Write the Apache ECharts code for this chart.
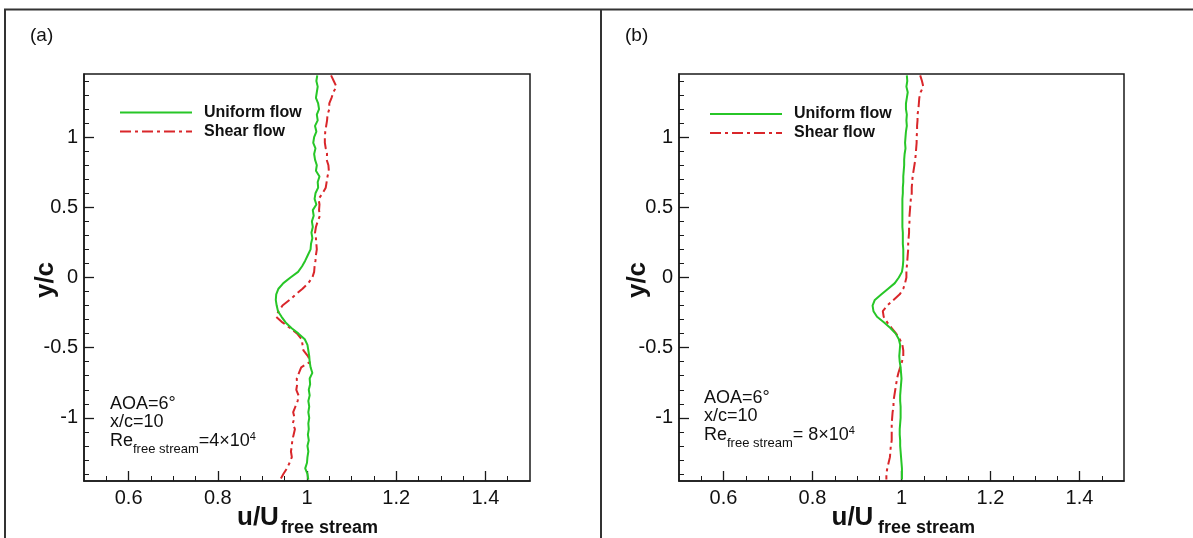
<!DOCTYPE html>
<html>
<head>
<meta charset="utf-8">
<script src="https://cdn.jsdelivr.net/npm/echarts@6/dist/echarts.min.js"></script>
<style>
html,body{margin:0;padding:0;background:#ffffff;}
#chart{width:1193px;height:538px;}
</style>
</head>
<body>
<div id="chart"></div>
<script>
// ---------- DATA ----------
const yValues = [
  1.44,1.40,1.36,1.32,1.28,1.24,1.20,1.16,1.12,1.08,
  1.04,1.00,0.96,0.92,0.88,0.84,0.80,0.76,0.72,0.68,
  0.64,0.60,0.56,0.52,0.48,0.44,0.40,0.36,0.32,0.28,
  0.24,0.20,0.16,0.12,0.08,0.04,0.00,-0.04,-0.08,-0.12,
  -0.16,-0.20,-0.24,-0.28,-0.32,-0.36,-0.40,-0.44,-0.48,-0.52,
  -0.56,-0.60,-0.64,-0.68,-0.72,-0.76,-0.80,-0.84,-0.88,-0.92,
  -0.96,-1.00,-1.04,-1.08,-1.12,-1.16,-1.20,-1.24,-1.28,-1.32,
  -1.36,-1.40,-1.44
];
// panel (a): Re = 4x10^4
const aUniformU = [
  1.023,1.021,1.024,1.022,1.020,1.025,1.027,1.022,1.024,1.018,
  1.021,1.016,1.014,1.019,1.016,1.018,1.022,1.020,1.028,1.024,
  1.025,1.019,1.017,1.021,1.013,1.015,1.011,1.013,1.010,1.012,
  1.009,1.008,1.002,0.996,0.989,0.980,0.963,0.947,0.936,0.931,
  0.930,0.932,0.935,0.943,0.952,0.965,0.981,0.995,1.001,1.003,
  1.005,1.006,1.008,1.012,1.006,1.007,1.004,1.006,1.003,1.005,
  1.003,1.005,1.003,1.004,1.002,1.004,1.001,1.003,1.001,1.000,
  0.996,1.001,1.003
];
const aShearU = [
  1.054,1.060,1.066,1.059,1.055,1.050,1.050,1.046,1.045,1.043,
  1.041,1.040,1.040,1.042,1.045,1.044,1.048,1.049,1.046,1.044,
  1.042,1.035,1.026,1.028,1.027,1.029,1.024,1.020,1.018,1.020,
  1.021,1.022,1.020,1.019,1.017,1.016,1.012,1.003,0.990,0.975,
  0.961,0.945,0.936,0.931,0.945,0.962,0.978,0.988,0.990,0.992,
  1.002,1.008,0.987,0.982,0.977,0.978,0.976,0.981,0.979,0.974,
  0.969,0.972,0.968,0.973,0.970,0.967,0.966,0.964,0.966,0.961,
  0.955,0.947,0.940
];
// panel (b): Re = 8x10^4
const bUniformU = [
  1.012,1.013,1.011,1.014,1.012,1.010,1.010,1.012,1.011,1.012,
  1.010,1.009,1.008,1.009,1.007,1.006,1.006,1.005,1.004,1.004,
  1.003,1.003,1.002,1.002,1.002,1.002,1.002,1.002,1.003,1.003,
  1.003,1.004,1.004,1.004,1.003,1.001,0.994,0.985,0.970,0.955,
  0.940,0.935,0.937,0.945,0.961,0.975,0.987,0.994,0.997,0.996,
  0.995,0.996,0.998,0.999,1.000,0.999,0.998,0.997,0.997,0.998,
  0.998,0.998,0.997,0.996,0.996,0.997,0.997,0.998,0.999,1.000,
  1.001,1.001,1.001
];
const bShearU = [
  1.042,1.046,1.049,1.043,1.040,1.039,1.038,1.036,1.036,1.035,
  1.035,1.034,1.034,1.033,1.032,1.031,1.029,1.027,1.025,1.024,
  1.023,1.023,1.021,1.020,1.019,1.018,1.018,1.017,1.017,1.016,
  1.015,1.015,1.014,1.013,1.012,1.011,1.011,1.008,1.004,0.996,
  0.982,0.968,0.958,0.960,0.968,0.978,0.988,0.996,1.002,1.004,
  1.004,1.001,0.997,0.993,0.990,0.988,0.986,0.984,0.982,0.982,
  0.980,0.979,0.978,0.978,0.978,0.978,0.976,0.975,0.974,0.971,
  0.968,0.966,0.966
];
const seriesNames = ['Uniform flow', 'Shear flow'];
const xMajorTicks = [0.6, 0.8, 1, 1.2, 1.4];
const xMinorTicks = [0.55,0.6,0.65,0.7,0.75,0.8,0.85,0.9,0.95,1,1.05,1.1,1.15,1.2,1.25,1.3,1.35,1.4,1.45];
const yMajorTicks = [-1, -0.5, 0, 0.5, 1];
const yMinorTicks = [-1.4,-1.3,-1.2,-1.1,-1,-0.9,-0.8,-0.7,-0.6,-0.5,-0.4,-0.3,-0.2,-0.1,0,0.1,0.2,0.3,0.4,0.5,0.6,0.7,0.8,0.9,1,1.1,1.2,1.3,1.4];
const panelLabels = ['(a)', '(b)'];
const reLabels = ['=4\u00d710', '= 8\u00d710'];

// ---------- CHART ----------
const FONT = 'Liberation Sans, Arial, Helvetica, sans-serif';
const GREEN = '#27c627';
const RED = '#d9262a';
const AX = '#1a1a1a';
const grids = [
  {left: 84, top: 74, width: 446, height: 407},
  {left: 679, top: 74, width: 445, height: 407}
];
const pairs = (us) => us.map((u, i) => [u, yValues[i]]);

const xAxes = [], yAxes = [];
grids.forEach((g, gi) => {
  xAxes.push({
    gridIndex: gi, type: 'value', min: 0.5, max: 1.5, position: 'bottom', offset: 0,
    axisLine: {show: true, onZero: false, lineStyle: {color: AX, width: 1.5}},
    axisTick: {show: true, inside: true, length: 5, customValues: xMinorTicks, lineStyle: {color: AX, width: 1}},
    axisLabel: {show: false}, splitLine: {show: false}
  });
  xAxes.push({
    gridIndex: gi, type: 'value', min: 0.5, max: 1.5, position: 'bottom', offset: 0,
    axisLine: {show: false, onZero: false},
    axisTick: {show: true, inside: true, length: 10, customValues: xMajorTicks, lineStyle: {color: AX, width: 1.3}},
    axisLabel: {show: true, customValues: xMajorTicks, margin: 7, color: '#111', fontSize: 20, fontFamily: FONT},
    splitLine: {show: false}
  });
  yAxes.push({
    gridIndex: gi, type: 'value', min: -1.45, max: 1.45, position: 'left', offset: 0,
    axisLine: {show: true, onZero: false, lineStyle: {color: AX, width: 1.5}},
    axisTick: {show: true, inside: true, length: 5, customValues: yMinorTicks, lineStyle: {color: AX, width: 1}},
    axisLabel: {show: false}, splitLine: {show: false}
  });
  yAxes.push({
    gridIndex: gi, type: 'value', min: -1.45, max: 1.45, position: 'left', offset: 0,
    axisLine: {show: false, onZero: false},
    axisTick: {show: true, inside: true, length: 10, customValues: yMajorTicks, lineStyle: {color: AX, width: 1.3}},
    axisLabel: {show: true, customValues: yMajorTicks, margin: 6, color: '#111', fontSize: 20, fontFamily: FONT},
    splitLine: {show: false}
  });
});

const dashDot = [11, 4, 3, 4];
const panelData = [[aUniformU, aShearU], [bUniformU, bShearU]];
const series = [];
panelData.forEach((pd, gi) => {
  series.push({
    name: seriesNames[0], type: 'line', xAxisIndex: gi * 2, yAxisIndex: gi * 2,
    data: pairs(pd[0]), symbol: 'none', smooth: false,
    lineStyle: {color: GREEN, width: 2, type: 'solid'}, itemStyle: {color: GREEN}, z: 3
  });
  series.push({
    name: seriesNames[1], type: 'line', xAxisIndex: gi * 2, yAxisIndex: gi * 2,
    data: pairs(pd[1]), symbol: 'none', smooth: false,
    lineStyle: {color: RED, width: 2, type: dashDot}, itemStyle: {color: RED}, z: 2
  });
});

const legendCommon = {
  orient: 'vertical', itemWidth: 72, itemHeight: 14, itemGap: 3,
  selectedMode: false,
  itemStyle: {opacity: 0, borderWidth: 0},
  textStyle: {fontSize: 16, fontWeight: 'bold', color: '#111', fontFamily: FONT, padding: [0, 0, 0, 7]},
  data: seriesNames
};

function textEl(x, y, text, opts) {
  return {
    type: 'text', x: x, y: y, silent: true,
    style: Object.assign({text: text, fontFamily: FONT, fill: '#111', verticalAlign: 'middle', align: 'left'}, opts || {})
  };
}
function rotatedText(x, y, text, style) {
  return {
    type: 'text', x: x, y: y, rotation: Math.PI / 2, silent: true,
    style: Object.assign({text: text, fontFamily: FONT, fill: '#111', align: 'center', verticalAlign: 'middle'}, style)
  };
}
function reText(x, y, mid) {
  return {
    type: 'text', x: x, y: y, silent: true,
    style: {
      text: '{n|Re}{s|free stream}{n|' + mid + '}{p|4}',
      fontFamily: FONT, fill: '#111', verticalAlign: 'middle', align: 'left',
      rich: {
        n: {fontSize: 18, fontFamily: FONT, fill: '#111'},
        s: {fontSize: 13, fontFamily: FONT, fill: '#111', padding: [16, 0, 0, 0]},
        p: {fontSize: 11, fontFamily: FONT, fill: '#111', padding: [0, 0, 9, 0]}
      }
    }
  };
}

const annX = [110, 704];
const annY = [404, 398];
const titleX = [237, 831.5];
const subX = [281, 878];
const yTitleX = [46, 638];
const panelLabelX = [30, 625];
const graphic = [
  {type: 'polyline', silent: true, shape: {points: [[5, 538], [5, 9.5], [1193, 9.5]]}, style: {stroke: '#333', lineWidth: 2, fill: null}},
  {type: 'line', silent: true, shape: {x1: 601, y1: 9.5, x2: 601, y2: 538}, style: {stroke: '#333', lineWidth: 2}}
];
[0, 1].forEach(i => {
  graphic.push(textEl(panelLabelX[i], 36, panelLabels[i], {fontSize: 19}));
  graphic.push(rotatedText(yTitleX[i], 280, 'y/c', {fontSize: 26, fontWeight: 'bold'}));
  graphic.push(textEl(titleX[i], 518, 'u/U', {fontSize: 26, fontWeight: 'bold'}));
  graphic.push(textEl(subX[i], 528, 'free stream', {fontSize: 18, fontWeight: 'bold'}));
  graphic.push(textEl(annX[i], annY[i], 'AOA=6\u00b0', {fontSize: 18}));
  graphic.push(textEl(annX[i], annY[i] + 18.5, 'x/c=10', {fontSize: 18}));
  graphic.push(reText(annX[i], annY[i] + 37.5, reLabels[i]));
});

const option = {
  animation: false,
  backgroundColor: '#ffffff',
  grid: grids.map(g => Object.assign({show: true, borderColor: AX, borderWidth: 1.5, backgroundColor: 'transparent', containLabel: false}, g)),
  xAxis: xAxes,
  yAxis: yAxes,
  legend: [
    Object.assign({}, legendCommon, {left: 114, top: 99.5}),
    Object.assign({}, legendCommon, {left: 704, top: 101})
  ],
  series: series,
  graphic: graphic
};

const chart = echarts.init(document.getElementById('chart'), null, {renderer: 'canvas'});
chart.setOption(option);
</script>
</body>
</html>
